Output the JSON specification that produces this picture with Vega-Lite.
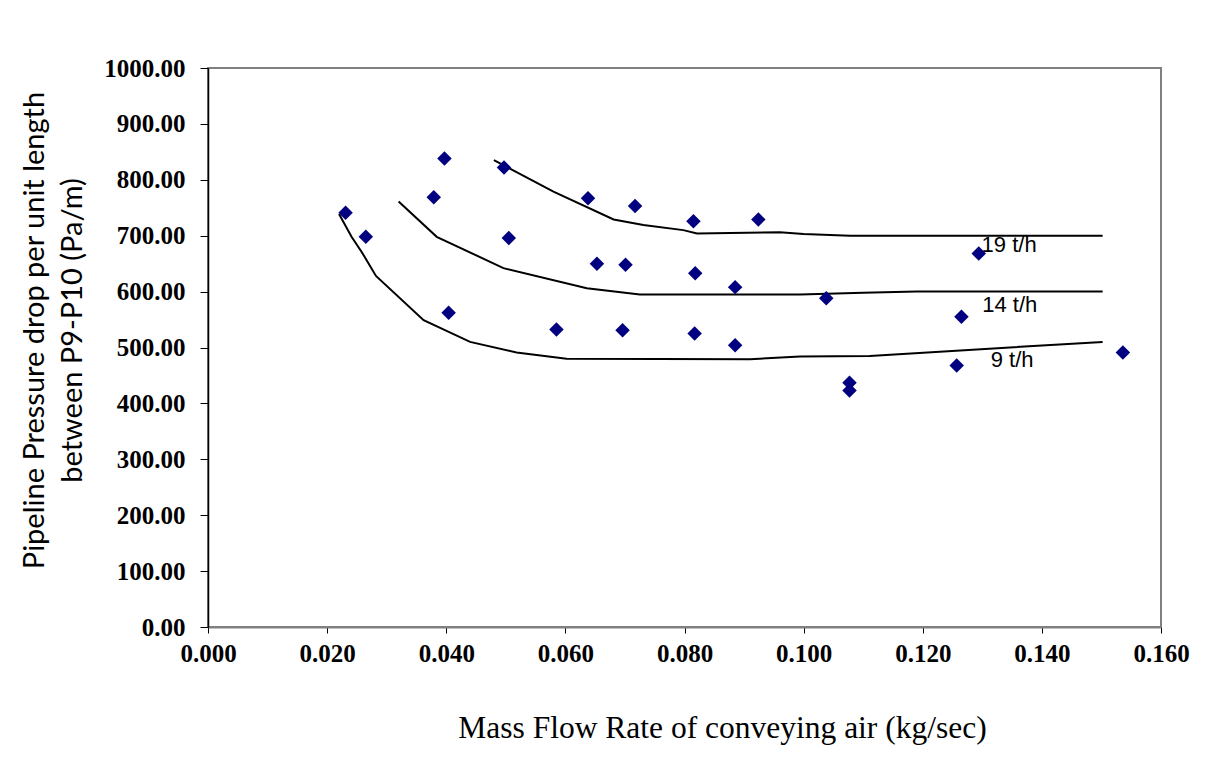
{
  "$schema": "https://vega.github.io/schema/vega-lite/v6.json",
  "width": 953,
  "height": 559,
  "autosize": {"type": "none"},
  "padding": {"left": 208, "top": 68, "right": 45, "bottom": 134},
  "background": "white",
  "config": {"view": {"stroke": "#808080", "strokeWidth": 2}},
  "datasets": {
    "points": [
      {"x": 0.0231, "y": 741}, {"x": 0.0265, "y": 698}, {"x": 0.0397, "y": 838},
      {"x": 0.0379, "y": 769}, {"x": 0.0404, "y": 562}, {"x": 0.0497, "y": 822},
      {"x": 0.0505, "y": 696}, {"x": 0.0585, "y": 532}, {"x": 0.0638, "y": 767},
      {"x": 0.0653, "y": 650}, {"x": 0.0701, "y": 648}, {"x": 0.0696, "y": 531},
      {"x": 0.0717, "y": 753}, {"x": 0.0815, "y": 726}, {"x": 0.0818, "y": 633},
      {"x": 0.0817, "y": 525}, {"x": 0.0885, "y": 608}, {"x": 0.0885, "y": 504},
      {"x": 0.0924, "y": 729}, {"x": 0.1038, "y": 588}, {"x": 0.1077, "y": 437},
      {"x": 0.1077, "y": 423}, {"x": 0.1294, "y": 668}, {"x": 0.1265, "y": 555},
      {"x": 0.1257, "y": 468}, {"x": 0.1536, "y": 491}
    ],
    "curves": [
      {"s": "19 t/h", "x": 0.0480, "y": 835}, {"s": "19 t/h", "x": 0.0580, "y": 779},
      {"s": "19 t/h", "x": 0.0681, "y": 729}, {"s": "19 t/h", "x": 0.0731, "y": 719},
      {"s": "19 t/h", "x": 0.0798, "y": 710}, {"s": "19 t/h", "x": 0.0821, "y": 704},
      {"s": "19 t/h", "x": 0.0960, "y": 706}, {"s": "19 t/h", "x": 0.1000, "y": 703},
      {"s": "19 t/h", "x": 0.1078, "y": 700}, {"s": "19 t/h", "x": 0.1502, "y": 700},
      {"s": "14 t/h", "x": 0.0320, "y": 761}, {"s": "14 t/h", "x": 0.0384, "y": 698},
      {"s": "14 t/h", "x": 0.0496, "y": 642}, {"s": "14 t/h", "x": 0.0636, "y": 606},
      {"s": "14 t/h", "x": 0.0725, "y": 595}, {"s": "14 t/h", "x": 0.0994, "y": 595},
      {"s": "14 t/h", "x": 0.1100, "y": 598}, {"s": "14 t/h", "x": 0.1190, "y": 600},
      {"s": "14 t/h", "x": 0.1502, "y": 600},
      {"s": "9 t/h", "x": 0.0220, "y": 739}, {"s": "9 t/h", "x": 0.0241, "y": 698},
      {"s": "9 t/h", "x": 0.0258, "y": 671}, {"s": "9 t/h", "x": 0.0282, "y": 628},
      {"s": "9 t/h", "x": 0.0362, "y": 549}, {"s": "9 t/h", "x": 0.0440, "y": 510},
      {"s": "9 t/h", "x": 0.0518, "y": 491}, {"s": "9 t/h", "x": 0.0602, "y": 480},
      {"s": "9 t/h", "x": 0.0910, "y": 479}, {"s": "9 t/h", "x": 0.0994, "y": 484},
      {"s": "9 t/h", "x": 0.1111, "y": 485}, {"s": "9 t/h", "x": 0.1502, "y": 510}
    ],
    "labels": [
      {"x": 0.1345, "y": 683, "t": "19 t/h"},
      {"x": 0.1346, "y": 576, "t": "14 t/h"},
      {"x": 0.1350, "y": 478, "t": "9 t/h"}
    ]
  },
  "layer": [
    {
      "data": {"name": "curves"},
      "mark": {"type": "line", "color": "black", "strokeWidth": 2},
      "encoding": {
        "x": {
          "field": "x", "type": "quantitative",
          "scale": {"domain": [0, 0.16], "nice": false, "zero": false},
          "axis": {
            "title": "Mass Flow Rate of conveying air (kg/sec)",
            "values": [0, 0.02, 0.04, 0.06, 0.08, 0.1, 0.12, 0.14, 0.16],
            "format": ".3f", "grid": false,
            "labelFont": "Liberation Serif", "labelFontWeight": "bold", "labelFontSize": 25,
            "labelColor": "black", "labelPadding": 8, "labelFlush": false, "labelOverlap": false,
            "tickColor": "black", "tickSize": 6,
            "domainColor": "#808080", "domainWidth": 2,
            "titleFont": "Liberation Serif", "titleFontSize": 31.5, "titleFontWeight": "normal",
            "titleColor": "black", "titleX": 514, "titleY": 110, "titleAlign": "center",
            "titleBaseline": "alphabetic"
          }
        },
        "y": {
          "field": "y", "type": "quantitative",
          "scale": {"domain": [0, 1000], "nice": false},
          "axis": {
            "title": ["Pipeline Pressure drop per unit length", "between P9-P10 (Pa/m)"],
            "values": [0, 100, 200, 300, 400, 500, 600, 700, 800, 900, 1000],
            "format": ".2f", "grid": false,
            "labelFont": "Liberation Serif", "labelFontWeight": "bold", "labelFontSize": 25,
            "labelColor": "black", "labelPadding": 15, "labelFlush": false, "labelOverlap": false,
            "tickColor": "black", "tickSize": 8,
            "domainColor": "black", "domainWidth": 1.5,
            "titleFont": "Lato", "titleFontSize": 29, "titleFontWeight": "normal",
            "titleColor": "black", "titleX": -174, "titleY": 262, "titleAngle": -90,
            "titleAlign": "center", "titleBaseline": "middle", "titleLineHeight": 38
          }
        },
        "detail": {"field": "s"}
      }
    },
    {
      "data": {"name": "labels"},
      "mark": {"type": "text", "font": "Liberation Sans", "fontSize": 22, "color": "black", "align": "center", "baseline": "middle"},
      "encoding": {
        "x": {"field": "x", "type": "quantitative"},
        "y": {"field": "y", "type": "quantitative"},
        "text": {"field": "t"}
      }
    },
    {
      "data": {"name": "points"},
      "mark": {"type": "point", "shape": "diamond", "filled": true, "color": "#000080", "opacity": 1, "size": 210},
      "encoding": {
        "x": {"field": "x", "type": "quantitative"},
        "y": {"field": "y", "type": "quantitative"}
      }
    }
  ]
}
